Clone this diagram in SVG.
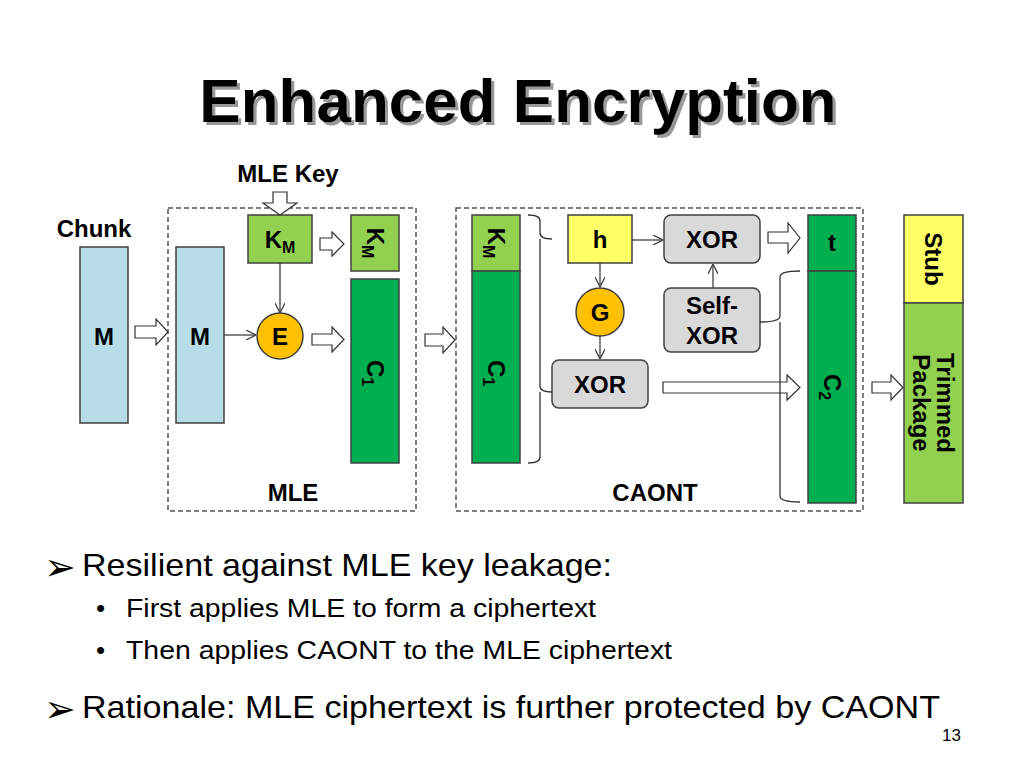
<svg xmlns="http://www.w3.org/2000/svg" width="1024" height="768" viewBox="0 0 1024 768">
<style>
text{font-family:"Liberation Sans",Arial,sans-serif;fill:#000}
.b{font-weight:bold;font-size:24px}
.c{text-anchor:middle}
.blk{stroke:#404040;stroke-width:1.5}
.cyan{fill:#b7dee8}
.lg{fill:#92d050}
.dg{fill:#00b050}
.yel{fill:#ffff66}
.gold{fill:#ffc000}
.gray{fill:#d9d9d9}
.dash{fill:none;stroke:#555;stroke-width:1.5;stroke-dasharray:5,3}
.ha{fill:#fff;stroke:#333;stroke-width:1.2}
.ln{fill:none;stroke:#404040;stroke-width:1.3}
.br{fill:none;stroke:#333;stroke-width:1.3}
.arr{font-family:"DejaVu Sans",sans-serif;font-size:38px}
</style>
<defs>
<marker id="v" viewBox="0 0 10 10" refX="10" refY="5" markerWidth="10" markerHeight="10" markerUnits="userSpaceOnUse" orient="auto">
<path d="M0,0 L10,5 L0,10" fill="none" stroke="#404040" stroke-width="1.3"/>
</marker>
<filter id="shadow" x="-5%" y="-20%" width="110%" height="140%">
<feOffset in="SourceAlpha" dx="3" dy="3" result="o"/>
<feFlood flood-color="#999999"/>
<feComposite in2="o" operator="in" result="s"/>
<feMerge><feMergeNode in="s"/><feMergeNode in="SourceGraphic"/></feMerge>
</filter>
</defs>
<rect width="1024" height="768" fill="#fff"/>
<g id="title">
<text x="518" y="122" class="c" font-size="62" font-weight="bold" filter="url(#shadow)">Enhanced Encryption</text>
</g>
<g id="boxes">
<rect id="mle-box" x="168" y="208" width="248" height="303" class="dash"/>
<rect id="caont-box" x="456" y="208" width="407" height="303" class="dash"/>
<text x="293" y="501" class="b c">MLE</text>
<text x="655" y="501" class="b c">CAONT</text>
</g>
<g id="chunk">
<text x="94" y="237" class="b c">Chunk</text>
<rect x="80" y="247" width="48" height="176" class="blk cyan"/>
<text x="104" y="345" class="b c">M</text>
</g>
<g id="mle-key">
<text x="288" y="182" class="b c">MLE Key</text>
</g>
<g id="m2">
<rect x="176" y="247" width="48" height="176" class="blk cyan"/>
<text x="200" y="345" class="b c">M</text>
</g>
<g id="km">
<rect x="248" y="215" width="64" height="48" class="blk lg"/>
<text x="280" y="248" class="b c">K<tspan font-size="16" dy="5">M</tspan></text>
</g>
<g id="e">
<circle cx="280" cy="336" r="23" class="blk gold"/>
<text x="280" y="345" class="b c">E</text>
</g>
<g id="km1">
<rect x="351" y="215" width="48" height="56" class="blk lg"/>
<text transform="translate(375,243) rotate(90)" x="0" y="8" class="b c">K<tspan font-size="16" dy="5">M</tspan></text>
</g>
<g id="c1a">
<rect x="351" y="279" width="48" height="184" class="blk dg"/>
<text transform="translate(375,373) rotate(90)" x="0" y="8" class="b c">C<tspan font-size="16" dy="5">1</tspan></text>
</g>
<g id="km2">
<rect x="472" y="215" width="48" height="56" class="blk lg"/>
<text transform="translate(496,243) rotate(90)" x="0" y="8" class="b c">K<tspan font-size="16" dy="5">M</tspan></text>
</g>
<g id="c1b">
<rect x="472" y="271" width="48" height="192" class="blk dg"/>
<text transform="translate(496,373) rotate(90)" x="0" y="8" class="b c">C<tspan font-size="16" dy="5">1</tspan></text>
</g>
<g id="h">
<rect x="568" y="215" width="64" height="48" class="blk yel"/>
<text x="600" y="248" class="b c">h</text>
</g>
<g id="g">
<circle cx="600" cy="312" r="24" class="blk gold"/>
<text x="600" y="321" class="b c">G</text>
</g>
<g id="xor1">
<rect x="664" y="215" width="96" height="48" rx="7" class="blk gray"/>
<text x="712" y="248" class="b c">XOR</text>
</g>
<g id="selfxor">
<rect x="664" y="288" width="96" height="64" rx="7" class="blk gray"/>
<text x="712" y="314" class="b c">Self-</text>
<text x="712" y="344" class="b c">XOR</text>
</g>
<g id="xor2">
<rect x="552" y="360" width="96" height="48" rx="7" class="blk gray"/>
<text x="600" y="393" class="b c">XOR</text>
</g>
<g id="t">
<rect x="808" y="215" width="48" height="56" class="blk dg"/>
<text x="832" y="251" class="b c">t</text>
</g>
<g id="c2">
<rect x="808" y="271" width="48" height="232" class="blk dg"/>
<text transform="translate(832,387) rotate(90)" x="0" y="8" class="b c">C<tspan font-size="16" dy="5">2</tspan></text>
</g>
<g id="stub">
<rect x="904" y="215" width="59" height="88" class="blk yel"/>
<text transform="translate(933,259) rotate(90)" x="0" y="8" class="b c">Stub</text>
</g>
<g id="trimmed">
<rect x="904" y="303" width="59" height="200" class="blk lg"/>
<text transform="translate(933,403) rotate(90)" class="b c"><tspan x="0" y="-4">Trimmed</tspan><tspan x="0" y="20">Package</tspan></text>
</g>
<g id="connectors">
<path class="ha" d="M135,326 H156 V319 L168,332 L156,345 V338 H135 Z"/>
<path class="ha" d="M273,192 H287 V203 H297 L280,215 L263,203 H273 Z"/>
<path class="ha" d="M320,238 H332 V232 L344,244 L332,256 V250 H320 Z"/>
<path class="ha" d="M312,334 H332 V327 L344,339.5 L332,352 V345 H312 Z"/>
<path class="ha" d="M425,334 H443 V327 L455,340 L443,353 V346 H425 Z"/>
<path class="ha" d="M768,232 H788 V223 L800,238 L788,253 V243 H768 Z"/>
<path class="ha" d="M663,382 H787 V375 L800,387.5 L787,400 V393 H663 Z"/>
<path class="ha" d="M872,382 H891 V375 L903,387.5 L891,400 V393 H872 Z"/>
<line class="ln" x1="224" y1="335" x2="256" y2="335" marker-end="url(#v)"/>
<line class="ln" x1="280" y1="263" x2="280" y2="313" marker-end="url(#v)"/>
<line class="ln" x1="632" y1="240" x2="663" y2="240" marker-end="url(#v)"/>
<line class="ln" x1="713" y1="288" x2="713" y2="264" marker-end="url(#v)"/>
<line class="ln" x1="600" y1="263" x2="600" y2="287" marker-end="url(#v)"/>
<line class="ln" x1="600" y1="336" x2="600" y2="359" marker-end="url(#v)"/>
<path class="br" d="M528,215 Q540,215 540,221 V233 Q540,239 552,239 M540,239 V386 Q540,392 552,392 M540,392 V457 Q540,463 528,463"/>
<path class="br" d="M800,271 Q780,271 780,277 V316 Q780,322 760,322 M780,322 V496 Q780,502 800,502"/>
</g>
<g id="bullets">
<text x="44" y="580" class="arr">➢</text>
<text x="82" y="576" font-size="32" textLength="530" lengthAdjust="spacingAndGlyphs">Resilient against MLE key leakage:</text>
<text x="96" y="617" font-size="26">•</text>
<text x="126" y="617" font-size="26" textLength="470" lengthAdjust="spacingAndGlyphs">First applies MLE to form a ciphertext</text>
<text x="96" y="659" font-size="26">•</text>
<text x="126" y="659" font-size="26" textLength="546" lengthAdjust="spacingAndGlyphs">Then applies CAONT to the MLE ciphertext</text>
<text x="44" y="722" class="arr">➢</text>
<text x="82" y="718" font-size="32" textLength="858" lengthAdjust="spacingAndGlyphs">Rationale: MLE ciphertext is further protected by CAONT</text>
<text x="942" y="741" font-size="17">13</text>
</g>
</svg>
